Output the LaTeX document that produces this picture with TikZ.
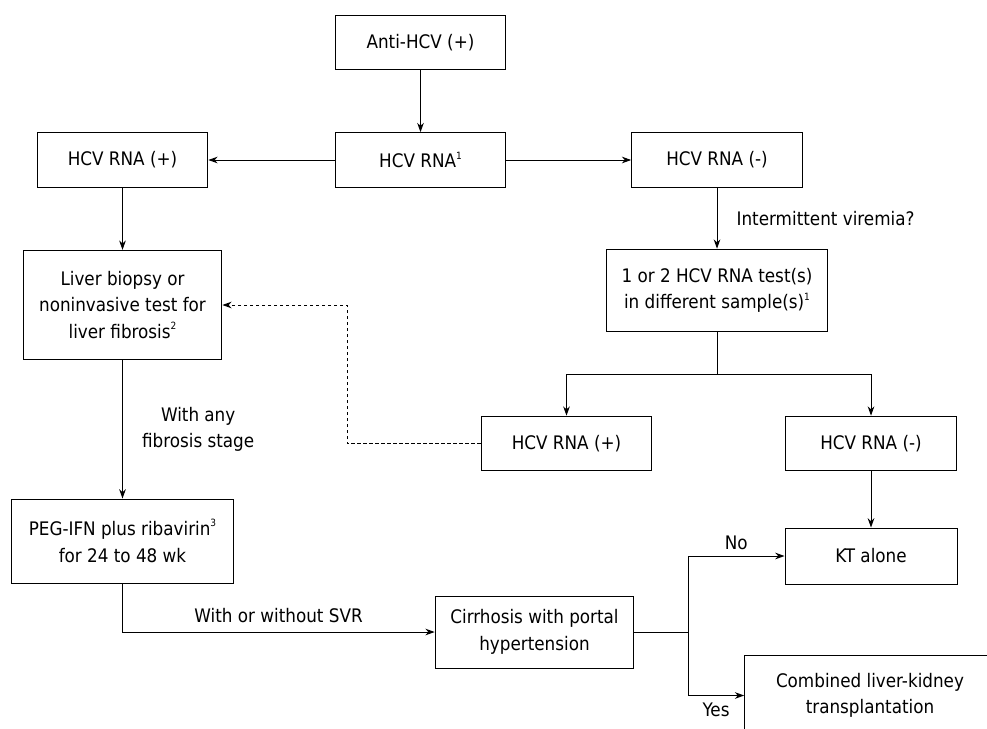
\documentclass[tikz,border=0pt]{standalone}
\usepackage{fontspec}
\setmainfont{DejaVu Sans Condensed}
\usetikzlibrary{arrows.meta}
\newcommand{\fnmark}[1]{\raisebox{0.85ex}{\fontsize{7.5}{7.5}\selectfont #1}}
\begin{document}
\begin{tikzpicture}[x=0.75pt,y=-0.75pt,
  font=\fontsize{14}{20}\selectfont,
  box/.style={draw,line width=0.75pt,align=center,inner sep=0pt},
  link/.style={line width=0.75pt,-{Stealth[length=7pt,width=5pt]}},
  plain/.style={line width=0.75pt}]
\clip (0,0) rectangle (987,728);
\node[box,minimum width=128pt,minimum height=41pt] (anti) at (420.5,42.5) {Anti-HCV (+)};
\node[box,minimum width=128pt,minimum height=41pt] (rna) at (420.5,160) {HCV RNA\fnmark{1}};
\node[box,minimum width=128pt,minimum height=41pt] (rnapos) at (122.5,160) {HCV RNA (+)};
\node[box,minimum width=128pt,minimum height=41pt] (rnaneg) at (717,160) {HCV RNA (-)};
\node[box,minimum width=149pt,minimum height=82pt] (biopsy) at (122.5,305)
  {Liver biopsy or\\noninvasive test for\\liver fibrosis\fnmark{2}};
\node[box,minimum width=166pt,minimum height=62pt] (tests) at (717,290.5)
  {1 or 2 HCV RNA test(s)\\in different sample(s)\fnmark{1}};
\node[box,minimum width=128pt,minimum height=41pt] (midpos) at (566.5,443.5) {HCV RNA (+)};
\node[box,minimum width=128pt,minimum height=41pt] (midneg) at (871,443.5) {HCV RNA (-)};
\node[box,minimum width=166pt,minimum height=63pt] (peg) at (122.5,541)
  {PEG-IFN plus ribavirin\fnmark{3}\\for 24 to 48 wk};
\node[box,minimum width=129pt,minimum height=42pt] (kt) at (871,556) {KT alone};
\node[box,minimum width=149pt,minimum height=54pt] (cirr) at (534.5,632)
  {Cirrhosis with portal\\hypertension};
\node[box,minimum width=188pt,minimum height=60pt] (combo) at (870,695.5)
  {Combined liver-kidney\\transplantation};
\coordinate (split) at (717,374);
\coordinate (turn) at (347,443.5);
\coordinate (fork) at (688,632);
\draw[link] (anti) -- (rna);
\draw[link] (rna) -- (rnapos);
\draw[link] (rna) -- (rnaneg);
\draw[link] (rnapos) -- (biopsy);
\draw[link] (rnaneg) -- node[right,xshift=11pt] {Intermittent viremia?} (tests);
\draw[plain] (tests) -- (split);
\draw[link] (split) -| (midpos.north);
\draw[link] (split) -| (midneg.north);
\draw[line width=0.75pt,dash pattern=on 2.5pt off 2pt,-{Stealth[length=7pt,width=5pt]}]
  (midpos.west) -- (turn) |- (biopsy.east);
\draw[link] (biopsy) -- node[right,xshift=11pt,align=center] {With any\\fibrosis stage} (peg);
\draw[link] (midneg) -- (kt);
\draw[link] (peg.south) |- node[pos=0.75,above,yshift=3pt] {With or without SVR} (cirr.west);
\draw[plain] (cirr.east) -- (fork);
\draw[link] (fork) |- node[pos=0.75,above,yshift=1pt] {No} (kt.west);
\draw[link] (fork) |- node[pos=0.75,below,yshift=-2pt] {Yes} (combo.west);
\end{tikzpicture}
\end{document}
